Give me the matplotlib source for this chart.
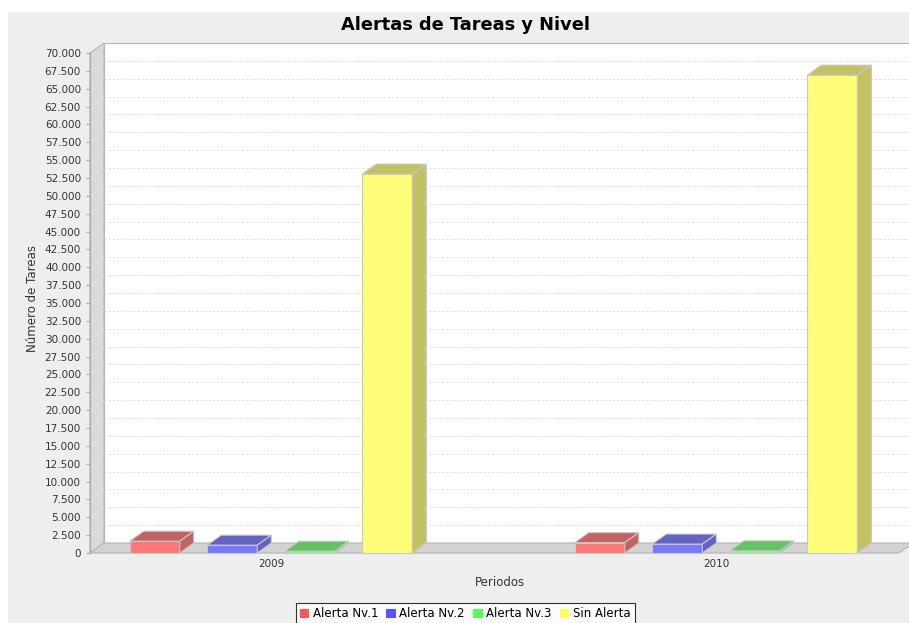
import matplotlib
matplotlib.use("Agg")
import matplotlib.pyplot as plt
from matplotlib.patches import Rectangle, Polygon, Patch
from matplotlib.transforms import Affine2D, IdentityTransform
from matplotlib.colors import to_rgb
import numpy as np

# datos del gráfico
periodos = ["2009", "2010"]
series = ["Alerta Nv.1", "Alerta Nv.2", "Alerta Nv.3", "Sin Alerta"]
alerta_nv1 = [1650, 1450]
alerta_nv2 = [1100, 1250]
alerta_nv3 = [250, 300]
sin_alerta = [53050, 66900]
colores = ["#FF5555", "#5555FF", "#55FF55", "#FFFF55"]

W, H = 909, 623
DX, DY = 14, 10          # profundidad 3D en pixeles
ancho, paso = 0.1124, 0.1742
y_max = 70000


def mezcla(c, factor=1.0, alpha=0.8):
    rgb = np.array(to_rgb(c)) * factor
    return tuple(alpha * rgb + (1 - alpha))


fig = plt.figure(figsize=(W / 100, H / 100), dpi=100, facecolor="white")
fig.patches.append(Rectangle((8 / W, 0), 1, (H - 12) / H, transform=fig.transFigure,
                             facecolor="#EEEEEE", edgecolor="none", zorder=-10))

ax = fig.add_axes([90 / W, 70 / H, 809 / W, 500 / H])
ax.set_xlim(-0.4067, 1.411)
ax.set_ylim(0, y_max)
ax.patch.set_visible(False)
for s in ["top", "right", "bottom"]:
    ax.spines[s].set_visible(False)
ax.spines["left"].set_color("#A8A8A8")

ticks = np.arange(0, y_max + 1, 2500)
ax.set_yticks(ticks)
ax.set_yticklabels([f"{t:,.0f}".replace(",", ".") for t in ticks])
ax.tick_params(axis="y", length=3, width=0.8, color="#A8A8A8", pad=3.5,
               labelsize=7.5, labelcolor="#333333")
ax.set_xticks(range(len(periodos)))
ax.set_xticklabels(periodos)
ax.tick_params(axis="x", length=0, pad=4, labelsize=7.5, labelcolor="#333333")

x0, x1 = ax.get_xlim()
fondo = ax.transData + Affine2D().translate(DX, DY)


def px(x, y, atras=False):
    p = ax.transData.transform((x, y))
    return p + (DX, DY) if atras else p


def cara(pts, fc, ec="#B4B4B4", lw=0.8, z=1):
    ax.add_patch(Polygon(pts, closed=True, facecolor=fc, edgecolor=ec, linewidth=lw,
                         transform=IdentityTransform(), clip_on=False, zorder=z))


# pared trasera y rejilla
ax.add_patch(Rectangle((0, 0), 1, 1, transform=ax.transAxes + Affine2D().translate(DX, DY),
                       facecolor="white", edgecolor="#B4B4B4", linewidth=0.8,
                       clip_on=False, zorder=0))
for t in ticks[1:-1]:
    ax.plot([x0, x1], [t, t], transform=fondo, color="#D8D8D8", linewidth=0.6,
            linestyle=(0, (2.5, 2.5)), clip_on=False, zorder=0.5)

# pared lateral y suelo
cara([px(x0, 0), px(x0, y_max), px(x0, y_max, True), px(x0, 0, True)], "#DADADA", z=0.6)
for t in ticks[1:-1]:
    a, b = px(x0, t), px(x0, t, True)
    ax.plot([a[0], b[0]], [a[1], b[1]], transform=IdentityTransform(), color="#E4E4E4",
            linewidth=0.5, clip_on=False, zorder=0.7)
cara([px(x0, 0), px(x1, 0), px(x1, 0, True), px(x0, 0, True)], "#D2D2D2", z=0.6)

# barras 3D
for i, (vals, c) in enumerate(zip([alerta_nv1, alerta_nv2, alerta_nv3, sin_alerta], colores)):
    frente = mezcla(c)
    sombra = mezcla(c, 0.7)
    for j, v in enumerate(vals):
        xl = j + (i - 1.5) * paso - ancho / 2
        xr = xl + ancho
        ax.add_patch(Rectangle((xl, 0), ancho, v, facecolor=frente, edgecolor="#C8C8C8",
                               linewidth=0.8, clip_on=False, zorder=2))
        cara([px(xl, v), px(xr, v), px(xr, v, True), px(xl, v, True)], sombra, ec="#C8C8C8", z=2)
        cara([px(xr, 0), px(xr, v), px(xr, v, True), px(xr, 0, True)], sombra, ec="#C8C8C8", z=2)

fig.text(466 / W, 1 - 25 / H, "Alertas de Tareas y Nivel", ha="center", va="center",
         fontsize=12.8, fontweight="bold")
fig.text(32 / W, 1 - 298 / H, "Número de Tareas", ha="center", va="center",
         rotation=90, fontsize=8.5, color="#333333")
fig.text(500 / W, 1 - 582 / H, "Periodos", ha="center", va="center",
         fontsize=8.5, color="#333333")

handles = [Patch(facecolor=c, edgecolor="none") for c in colores]
leg = fig.legend(handles, series, loc="upper center", bbox_to_anchor=(465 / W, 1 - 603 / H),
                 ncol=4, fontsize=8.5, frameon=True, fancybox=False, borderpad=0.35,
                 handlelength=0.8, handleheight=0.8, handletextpad=0.3,
                 columnspacing=0.7, borderaxespad=0)
leg.get_frame().set_edgecolor("black")
leg.get_frame().set_linewidth(0.8)
leg.get_frame().set_facecolor("white")

fig.savefig("out.png", dpi=100)
